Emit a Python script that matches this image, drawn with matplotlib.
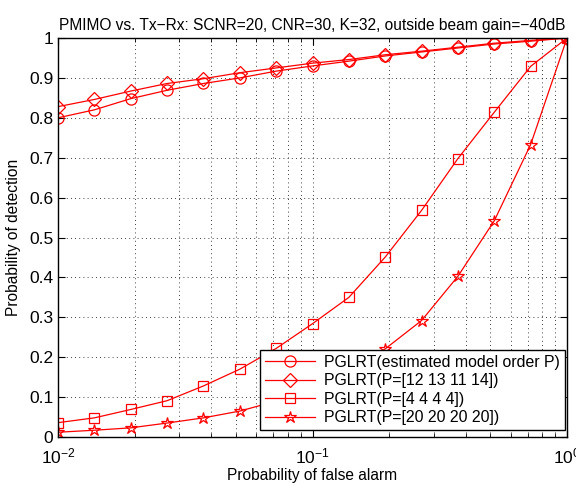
import numpy as np
import matplotlib
matplotlib.use("Agg")
import matplotlib.pyplot as plt
from matplotlib.ticker import FixedLocator, FuncFormatter, LogLocator, NullFormatter

plt.rcParams['font.family'] = ['Liberation Sans', 'DejaVu Sans']

# False-alarm probabilities (log-spaced thresholds)
pfa = np.logspace(-2, 0, 15)

pd_est = [0.800, 0.820, 0.848, 0.869, 0.886, 0.900, 0.917, 0.930, 0.942,
          0.955, 0.965, 0.975, 0.985, 0.992, 1.000]
pd_p12 = [0.828, 0.846, 0.867, 0.886, 0.898, 0.913, 0.925, 0.937, 0.946,
          0.958, 0.967, 0.977, 0.987, 0.994, 1.000]
pd_p4 = [0.036, 0.048, 0.069, 0.091, 0.128, 0.170, 0.222, 0.284, 0.350,
         0.451, 0.568, 0.698, 0.814, 0.929, 1.000]
pd_p20 = [0.012, 0.017, 0.023, 0.035, 0.048, 0.065, 0.090, 0.120, 0.165,
          0.221, 0.292, 0.403, 0.542, 0.733, 1.000]

labels = ['PGLRT(estimated model order P)',
          'PGLRT(P=[12 13 11 14])',
          'PGLRT(P=[4 4 4 4])',
          'PGLRT(P=[20 20 20 20])']
markers = ['o', 'D', 's', '*']
msizes = [8, 7, 7, 9]

fig = plt.figure(figsize=(5.76, 4.83), dpi=100)
ax = fig.add_axes([0.1007, 0.0952, 0.8837, 0.8261])

for y, lab, m, ms in zip([pd_est, pd_p12, pd_p4, pd_p20], labels, markers, msizes):
    ax.semilogx(pfa, y, color='red', lw=0.9, marker=m, ms=ms,
                mfc='none', mec='red', mew=0.9, label=lab)

ax.set_xlim(1e-2, 1)
ax.set_ylim(0, 1)
ax.yaxis.set_major_locator(FixedLocator(np.arange(0, 1.01, 0.1)))
ax.yaxis.set_major_formatter(FuncFormatter(lambda v, p: '%g' % round(v, 1)))
ax.xaxis.set_major_locator(LogLocator(base=10, numticks=5))
ax.xaxis.set_minor_locator(LogLocator(base=10, subs=np.arange(2, 10), numticks=20))
ax.xaxis.set_minor_formatter(NullFormatter())

ax.grid(True, which='major', axis='both', color='black', ls=(0, (1, 4)), lw=0.6)
ax.grid(True, which='minor', axis='x', color='black', ls=(0, (1, 4)), lw=0.6)
ax.tick_params(which='both', direction='in', top=True, right=True, labelsize=12.5)
ax.tick_params(which='major', length=5, width=0.8)
ax.tick_params(which='minor', length=3, width=0.6)
ax.tick_params(axis='x', pad=7)
for s in ax.spines.values():
    s.set_linewidth(1.0)

ax.set_title('PMIMO vs. Tx\u2212Rx: SCNR=20, CNR=30, K=32, outside beam gain=\u221240dB',
             fontsize=11.2, pad=6)
ax.set_xlabel('Probability of false alarm', fontsize=11.2, labelpad=1)
ax.set_ylabel('Probability of detection', fontsize=11.2, labelpad=6)

leg = ax.legend(loc='lower right', bbox_to_anchor=(0.996, 0.017), borderaxespad=0,
                fontsize=11.4, fancybox=False, framealpha=1, edgecolor='black',
                handlelength=3.15, handletextpad=0.55, labelspacing=0.22,
                borderpad=0.32)
leg.get_frame().set_linewidth(1.0)

fig.savefig('out.png', dpi=100)
